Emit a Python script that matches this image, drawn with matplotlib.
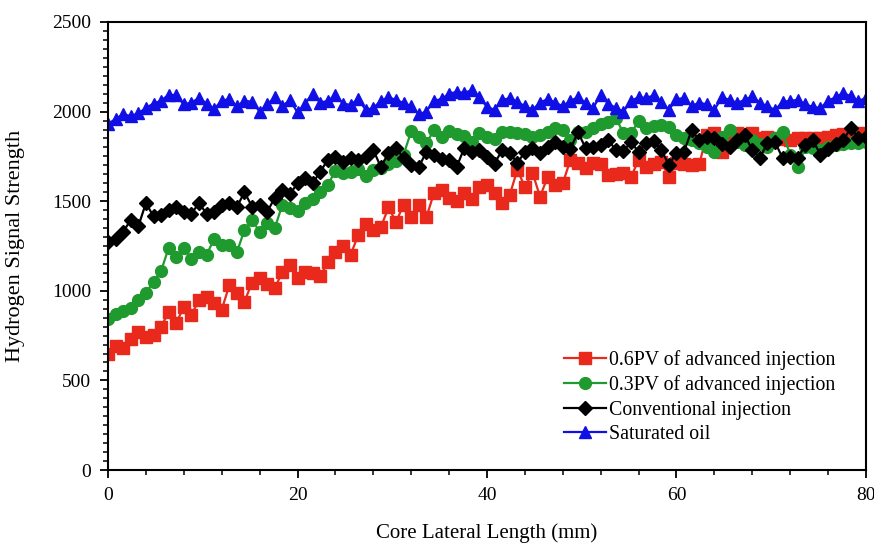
import numpy as np
import matplotlib.pyplot as plt

plt.rcParams['font.family'] = ['Liberation Serif', 'DejaVu Serif']

# core lateral position (mm), one sample every 0.8 mm
x = np.round(np.arange(101) * 0.8, 1)

pv06 = [650, 690, 680, 730, 770, 745, 755, 800, 880, 820,
        910, 865, 950, 965, 930, 895, 1030, 990, 940, 1045,
        1070, 1040, 1015, 1105, 1145, 1070, 1105, 1100, 1080, 1160,
        1215, 1250, 1200, 1310, 1375, 1340, 1355, 1465, 1385, 1480,
        1410, 1480, 1410, 1545, 1560, 1520, 1500, 1545, 1510, 1580,
        1590, 1545, 1490, 1535, 1675, 1580, 1660, 1525, 1635, 1590,
        1600, 1730, 1715, 1685, 1715, 1710, 1645, 1650, 1655, 1635,
        1730, 1690, 1705, 1720, 1635, 1715, 1710, 1700, 1705, 1870,
        1880, 1775, 1870, 1880, 1875, 1880, 1855, 1860, 1850, 1845,
        1840, 1855, 1850, 1855, 1850, 1860, 1870, 1875, 1880, 1880,
        1875]

pv03 = [840, 870, 890, 905, 950, 990, 1050, 1110, 1240, 1190,
        1240, 1175, 1215, 1200, 1290, 1255, 1255, 1215, 1340, 1395,
        1330, 1380, 1350, 1480, 1462, 1445, 1490, 1515, 1550, 1590,
        1670, 1655, 1665, 1680, 1640, 1675, 1685, 1705, 1725, 1760,
        1890, 1860, 1825, 1895, 1860, 1890, 1875, 1865, 1830, 1880,
        1860, 1845, 1886, 1885, 1880, 1875, 1858, 1870, 1885, 1908,
        1895, 1841, 1886, 1886, 1910, 1930, 1940, 1964, 1880, 1880,
        1945, 1908, 1920, 1925, 1914, 1869, 1855, 1840, 1825, 1800,
        1775, 1860, 1897, 1830, 1814, 1841, 1820, 1803, 1850, 1886,
        1760, 1690, 1800, 1795, 1786, 1800, 1814, 1820, 1825, 1825,
        1830]

conventional = [1270, 1290, 1330, 1395, 1360, 1490, 1415, 1425, 1450, 1465,
                1440, 1430, 1490, 1430, 1440, 1479, 1490, 1468, 1550, 1470,
                1480, 1440, 1520, 1565, 1540, 1600, 1630, 1600, 1665, 1730,
                1745, 1720, 1740, 1730, 1747, 1786, 1690, 1770, 1797, 1740,
                1700, 1691, 1775, 1760, 1735, 1730, 1691, 1797, 1775, 1786,
                1747, 1710, 1786, 1769, 1713, 1775, 1797, 1770, 1805, 1830,
                1800, 1790, 1886, 1797, 1805, 1815, 1840, 1786, 1780, 1830,
                1775, 1825, 1835, 1786, 1702, 1769, 1775, 1897, 1841, 1858,
                1855, 1820, 1803, 1840, 1869, 1786, 1741, 1825, 1830, 1741,
                1745, 1741, 1814, 1841, 1758, 1790, 1820, 1841, 1908, 1853,
                1860]

saturated = [1930, 1960, 1985, 1975, 1990, 2020, 2045, 2060, 2095, 2090,
             2040, 2050, 2076, 2045, 2015, 2060, 2070, 2030, 2060, 2055,
             2000, 2040, 2080, 2030, 2065, 1995, 2045, 2100, 2050, 2060,
             2090, 2045, 2037, 2070, 2010, 2020, 2060, 2080, 2065, 2048,
             2030, 1985, 2000, 2060, 2070, 2100, 2110, 2104, 2120, 2080,
             2026, 2010, 2065, 2075, 2054, 2030, 2010, 2050, 2070, 2050,
             2030, 2060, 2080, 2050, 2020, 2093, 2045, 2020, 2000, 2060,
             2080, 2076, 2090, 2054, 2010, 2070, 2075, 2030, 2050, 2040,
             2010, 2080, 2065, 2048, 2065, 2085, 2048, 2030, 2009, 2054,
             2060, 2065, 2040, 2026, 2020, 2060, 2080, 2104, 2085, 2060,
             2075]

series = [
    (pv06, "0.6PV of advanced injection", "#e8291c", "s", 8.5),
    (pv03, "0.3PV of advanced injection", "#1e9a2e", "o", 8.5),
    (conventional, "Conventional injection", "black", "D", 7.5),
    (saturated, "Saturated oil", "#1010e6", "^", 9),
]

fig = plt.figure(figsize=(8.74, 5.44), dpi=100)
ax = fig.add_axes([0.1236, 0.136, 0.8672, 0.8236])

for y, lab, col, mk, ms in series:
    ax.plot(x, y, color=col, marker=mk, markersize=ms, linewidth=1.6, label=lab)

ax.set_xlim(0, 80)
ax.set_ylim(0, 2500)
ax.set_xticks([0, 20, 40, 60, 80])
ax.set_xticks(np.arange(0, 81, 4), minor=True)
ax.set_yticks([0, 500, 1000, 1500, 2000, 2500])
ax.set_yticks(np.arange(0, 2501, 50), minor=True)
ax.tick_params(which="major", direction="out", length=6, width=1.3, labelsize=14, pad=6)
ax.tick_params(which="minor", direction="out", length=3.5, width=1.1)
for sp in ax.spines.values():
    sp.set_linewidth(1.5)

ax.set_xlabel("Core Lateral Length (mm)", fontsize=15)
ax.set_ylabel("Hydrogen Signal Strength", fontsize=16)
ax.xaxis.set_label_coords(0.5, -0.118)
ax.yaxis.set_label_coords(-0.11, 0.5)

ax.legend(loc="upper left", bbox_to_anchor=(0.583, 0.298), frameon=False,
          fontsize=14.3, handlelength=2.1, handletextpad=0.2, labelspacing=0.26,
          borderpad=0.2)

fig.savefig("out.png", dpi=100)
